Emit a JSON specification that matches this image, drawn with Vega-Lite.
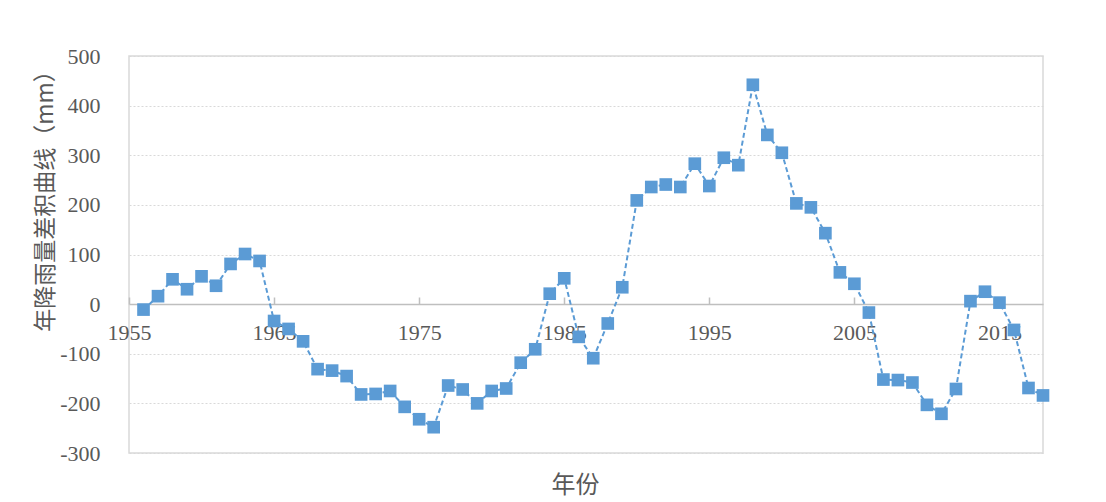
{
  "$schema": "https://vega.github.io/schema/vega-lite/v6.json",
  "width": 914,
  "height": 397,
  "autosize": {"type": "none"},
  "padding": {"left": 129, "top": 56, "right": 63, "bottom": 49},
  "background": "white",
  "config": {"view": {"stroke": "#d9d9d9", "strokeWidth": 1.5}, "font": "Liberation Serif"},
  "data": {"values": [
    {"year": 1956, "value": -11}, {"year": 1957, "value": 16}, {"year": 1958, "value": 50}, {"year": 1959, "value": 30},
    {"year": 1960, "value": 56}, {"year": 1961, "value": 37}, {"year": 1962, "value": 81}, {"year": 1963, "value": 101},
    {"year": 1964, "value": 87}, {"year": 1965, "value": -34}, {"year": 1966, "value": -50}, {"year": 1967, "value": -75},
    {"year": 1968, "value": -131}, {"year": 1969, "value": -134}, {"year": 1970, "value": -145}, {"year": 1971, "value": -182},
    {"year": 1972, "value": -181}, {"year": 1973, "value": -175}, {"year": 1974, "value": -207}, {"year": 1975, "value": -232},
    {"year": 1976, "value": -248}, {"year": 1977, "value": -164}, {"year": 1978, "value": -172}, {"year": 1979, "value": -200},
    {"year": 1980, "value": -175}, {"year": 1981, "value": -170}, {"year": 1982, "value": -118}, {"year": 1983, "value": -91},
    {"year": 1984, "value": 21}, {"year": 1985, "value": 52}, {"year": 1986, "value": -66}, {"year": 1987, "value": -109},
    {"year": 1988, "value": -39}, {"year": 1989, "value": 34}, {"year": 1990, "value": 209}, {"year": 1991, "value": 236},
    {"year": 1992, "value": 241}, {"year": 1993, "value": 236}, {"year": 1994, "value": 283}, {"year": 1995, "value": 238},
    {"year": 1996, "value": 295}, {"year": 1997, "value": 280}, {"year": 1998, "value": 442}, {"year": 1999, "value": 341},
    {"year": 2000, "value": 305}, {"year": 2001, "value": 203}, {"year": 2002, "value": 195}, {"year": 2003, "value": 143},
    {"year": 2004, "value": 64}, {"year": 2005, "value": 41}, {"year": 2006, "value": -17}, {"year": 2007, "value": -152},
    {"year": 2008, "value": -153}, {"year": 2009, "value": -158}, {"year": 2010, "value": -203}, {"year": 2011, "value": -221},
    {"year": 2012, "value": -171}, {"year": 2013, "value": 6}, {"year": 2014, "value": 25}, {"year": 2015, "value": 3},
    {"year": 2016, "value": -52}, {"year": 2017, "value": -169}, {"year": 2018, "value": -184}
  ]},
  "layer": [
    {
      "mark": {"type": "line", "color": "#5b9bd5", "strokeDash": [5, 3], "strokeWidth": 2},
      "encoding": {
        "x": {
          "field": "year", "type": "quantitative",
          "scale": {"domain": [1955, 2018], "nice": false, "zero": false},
          "axis": {
            "orient": "bottom",
            "values": [1955, 1965, 1975, 1985, 1995, 2005, 2015],
            "labelExpr": "'' + datum.value", "offset": -149, "title": null, "grid": false,
            "domainColor": "#bfbfbf", "domainWidth": 1.5,
            "tickColor": "#bfbfbf", "tickSize": -7, "tickWidth": 1.5,
            "labelPadding": 25, "labelFont": "Liberation Serif", "labelFontSize": 22,
            "labelColor": "#595959", "labelFlush": false, "labelOverlap": false
          }
        },
        "y": {
          "field": "value", "type": "quantitative",
          "scale": {"domain": [-300, 500], "nice": false},
          "axis": {
            "values": [-300, -200, -100, 0, 100, 200, 300, 400, 500],
            "labelExpr": "'' + datum.value",
            "title": "年降雨量差积曲线（mm）",
            "titleFont": "Noto Sans CJK SC", "titleFontSize": 23, "titleFontWeight": "normal",
            "titleColor": "#595959", "titleX": -84, "titleY": 139, "titleBaseline": "middle", "titleAngle": -90,
            "grid": true, "gridDash": [2, 2], "gridColor": "#d9d9d9", "gridWidth": 1.2,
            "domain": false, "ticks": false, "labelPadding": 29,
            "labelFont": "Liberation Serif", "labelFontSize": 22, "labelColor": "#595959"
          }
        }
      }
    },
    {
      "mark": {"type": "point", "shape": "square", "filled": true, "size": 160, "color": "#5b9bd5", "opacity": 1},
      "encoding": {
        "x": {
          "field": "year", "type": "quantitative",
          "axis": {
            "orient": "bottom",
            "title": "年份", "labels": false, "ticks": false, "domain": false, "grid": false,
            "titleX": 446, "titleY": 32, "titleBaseline": "middle",
            "titleFont": "Noto Sans CJK SC", "titleFontSize": 24,
            "titleFontWeight": "normal", "titleColor": "#595959"
          }
        },
        "y": {"field": "value", "type": "quantitative"}
      }
    }
  ],
  "resolve": {"axis": {"x": "independent"}}
}
